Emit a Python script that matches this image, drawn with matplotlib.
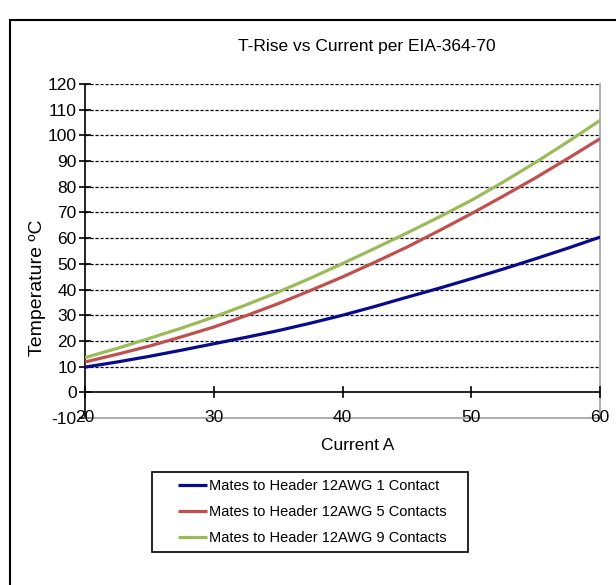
import matplotlib
matplotlib.use("Agg")
import matplotlib.pyplot as plt
from matplotlib.patches import Rectangle
from matplotlib import font_manager

# ---- data ----
current = [20, 22.5, 25, 27.5, 30, 32.5, 35, 37.5, 40, 42.5, 45, 47.5, 50, 52.5, 55, 57.5, 60]
one_contact = [9.8, 11.8, 14.0, 16.4, 18.9, 21.4, 24.0, 26.9, 30.0, 33.4, 37.0, 40.5,
               44.2, 48.0, 52.0, 56.1, 60.4]
five_contacts = [11.8, 14.8, 18.0, 21.6, 25.4, 29.8, 34.5, 39.6, 44.9, 50.6, 56.5, 62.9,
                 69.5, 76.4, 83.5, 91.0, 98.7]
nine_contacts = [13.5, 17.1, 21.0, 25.0, 29.3, 34.0, 39.0, 44.4, 50.1, 56.0, 62.0, 68.2,
                 74.7, 81.9, 89.5, 97.5, 105.8]
series_names = ["Mates to Header 12AWG 1 Contact",
                "Mates to Header 12AWG 5 Contacts",
                "Mates to Header 12AWG 9 Contacts"]
x_ticks = [20, 30, 40, 50, 60]
y_ticks = [-10, 0, 10, 20, 30, 40, 50, 60, 70, 80, 90, 100, 110, 120]
grid_levels = [10, 20, 30, 40, 50, 60, 70, 80, 90, 100, 110, 120]
title = "T-Rise vs Current per EIA-364-70"
xlabel = "Current A"
ylabel = "Temperature ºC"

names = {f.name for f in font_manager.fontManager.ttflist}
fam = ["Liberation Sans Narrow", "Liberation Sans", "DejaVu Sans"]
fam = [f for f in fam if f in names] or ["DejaVu Sans"]
plt.rcParams["font.family"] = fam

W, H = 616, 585
fig = plt.figure(figsize=(W / 100, H / 100), dpi=100)

# outer frame
fig.patches.append(Rectangle((10 / W, -0.05), 1.0, 1 - 20 / H + 0.05,
                             transform=fig.transFigure, fill=False,
                             edgecolor="black", linewidth=1.5))

ax = fig.add_axes([85 / W, 1 - 418 / H, (600 - 85) / W, (418 - 84) / H])
ax.set_xlim(20, 60)
ax.set_ylim(-10, 120)

for lvl in grid_levels:
    ax.axhline(lvl, color="black", linewidth=0.9, linestyle=(0, (2.5, 1.5)), zorder=1)

colors = ["#0a0a8c", "#c0504d", "#9bbb59"]
for ys, c, n in zip([one_contact, five_contacts, nine_contacts], colors, series_names):
    ax.plot(current, ys, color=c, linewidth=2.3, label=n, zorder=3,
            solid_capstyle="butt")

# x axis line at zero with crossing ticks
ax.axhline(0, color="black", linewidth=1.2, zorder=4)
for xt in x_ticks:
    ax.plot([xt, xt], [-2, 2], color="black", linewidth=1.2, zorder=4, clip_on=False)
    ax.text(xt, -10, str(xt), ha="center", va="center", fontsize=12.5, zorder=5)

ax.spines["top"].set_visible(False)
ax.spines["left"].set_color("black")
ax.spines["left"].set_linewidth(1.2)
ax.spines["right"].set_color("#a0a0a0")
ax.spines["bottom"].set_color("#a0a0a0")
ax.spines["right"].set_linewidth(1.2)
ax.spines["bottom"].set_linewidth(1.2)

ax.set_xticks([])
ax.set_yticks(y_ticks)
ax.set_yticklabels([str(v) for v in y_ticks], fontsize=12.5)
ax.tick_params(axis="y", direction="inout", length=8, width=1.2, pad=2)

fig.text(367 / W, 1 - 47 / H, title, ha="center", va="center", fontsize=12.5)
fig.text(358 / W, 1 - 445 / H, xlabel, ha="center", va="center", fontsize=12.5)
fig.text(37 / W, 1 - 288 / H, ylabel, ha="center", va="center", rotation=90, fontsize=14)

# legend box
fig.patches.append(Rectangle((152 / W, 1 - 552 / H), (468 - 152) / W, 80 / H,
                             transform=fig.transFigure, fill=False,
                             edgecolor="black", linewidth=1.2))
leg = ax.legend(loc="center", bbox_to_anchor=(312 / W, 1 - 512 / H),
                bbox_transform=fig.transFigure, frameon=False,
                fontsize=10.5, handlelength=2.0, handletextpad=0.15,
                labelspacing=0.8, borderaxespad=0)

fig.savefig("out.png", dpi=100)
